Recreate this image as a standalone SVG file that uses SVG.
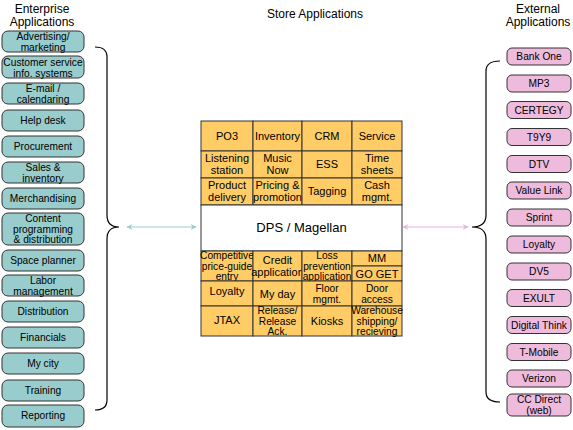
<svg xmlns="http://www.w3.org/2000/svg" width="573" height="430" viewBox="0 0 573 430">
<style>
text{font-family:"Liberation Sans",Arial,sans-serif;fill:#000;text-anchor:middle}
.title{font-size:12px}
.ent rect{fill:#99cccc;stroke:#333;stroke-width:1}
.ext rect{fill:#eebbdd;stroke:#333;stroke-width:1}
.ent text,.ext text{font-size:10.2px}
.cell rect{fill:#ffcc66;stroke:#333;stroke-width:1}
.cell text{font-size:11px}
.cell text.s{font-size:10.2px}
.br{fill:none;stroke:#000;stroke-width:1.2}
</style>
<defs>
<marker id="at" viewBox="0 0 10 10" refX="9" refY="5" markerWidth="8" markerHeight="6" orient="auto-start-reverse" markerUnits="userSpaceOnUse"><path d="M0,0 L10,5 L0,10 L3,5 Z" fill="#99cccc"/></marker>
<marker id="ap" viewBox="0 0 10 10" refX="9" refY="5" markerWidth="8" markerHeight="6" orient="auto-start-reverse" markerUnits="userSpaceOnUse"><path d="M0,0 L10,5 L0,10 L3,5 Z" fill="#e8b4d8"/></marker>
</defs>
<rect width="573" height="430" fill="#fff"/>
<g id="titles">
<text class="title" x="42" y="12.5">Enterprise</text>
<text class="title" x="42" y="26.2">Applications</text>
<text class="title" x="315" y="18">Store Applications</text>
<text class="title" x="538" y="12.5">External</text>
<text class="title" x="538" y="26.2">Applications</text>
</g>
<g id="enterprise" class="ent">
<g id="e1"><rect x="2" y="31" width="82" height="21" rx="6"/><text x="43" y="40">Advertising/</text><text x="43" y="51">marketing</text></g>
<g id="e2"><rect x="2" y="56" width="82" height="22" rx="6"/><text x="43" y="65.5">Customer service</text><text x="43" y="76.5">info. systems</text></g>
<g id="e3"><rect x="2" y="83" width="82" height="21" rx="6"/><text x="43" y="92">E-mail /</text><text x="43" y="103">calendaring</text></g>
<g id="e4"><rect x="2" y="110" width="82" height="21" rx="6"/><text x="43" y="124">Help desk</text></g>
<g id="e5"><rect x="2" y="136" width="82" height="21" rx="6"/><text x="43" y="150">Procurement</text></g>
<g id="e6"><rect x="2" y="162" width="82" height="21" rx="6"/><text x="43" y="171">Sales &amp;</text><text x="43" y="182">inventory</text></g>
<g id="e7"><rect x="2" y="188" width="82" height="21" rx="6"/><text x="43" y="202">Merchandising</text></g>
<g id="e8"><rect x="2" y="213" width="82" height="32" rx="6"/><text x="43" y="222">Content</text><text x="43" y="232.5">programming</text><text x="43" y="243">&amp; distribution</text></g>
<g id="e9"><rect x="2" y="250" width="82" height="21" rx="6"/><text x="43" y="264">Space planner</text></g>
<g id="e10"><rect x="2" y="275" width="82" height="21" rx="6"/><text x="43" y="284">Labor</text><text x="43" y="295">management</text></g>
<g id="e11"><rect x="2" y="301" width="82" height="21" rx="6"/><text x="43" y="315">Distribution</text></g>
<g id="e12"><rect x="2" y="327" width="82" height="21" rx="6"/><text x="43" y="341">Financials</text></g>
<g id="e13"><rect x="2" y="353" width="82" height="21" rx="6"/><text x="43" y="367">My city</text></g>
<g id="e14"><rect x="2" y="380" width="82" height="21" rx="6"/><text x="43" y="394">Training</text></g>
<g id="e15"><rect x="2" y="405" width="82" height="22" rx="6"/><text x="43" y="419">Reporting</text></g>
</g>
<g id="store" class="cell">
<g id="s-po3"><rect x="201" y="121" width="52" height="30"/><text x="227" y="140">PO3</text></g>
<g id="s-inv"><rect x="253" y="121" width="49" height="30"/><text x="277.5" y="140">Inventory</text></g>
<g id="s-crm"><rect x="302" y="121" width="50" height="30"/><text x="327" y="140">CRM</text></g>
<g id="s-svc"><rect x="352" y="121" width="50" height="30"/><text x="377" y="140">Service</text></g>
<g id="s-lst"><rect x="201" y="151" width="52" height="27"/><text x="227" y="162">Listening</text><text x="227" y="174">station</text></g>
<g id="s-mus"><rect x="253" y="151" width="49" height="27"/><text x="277.5" y="162">Music</text><text x="277.5" y="174">Now</text></g>
<g id="s-ess"><rect x="302" y="151" width="50" height="27"/><text x="327" y="168">ESS</text></g>
<g id="s-time"><rect x="352" y="151" width="50" height="27"/><text x="377" y="162">Time</text><text x="377" y="174">sheets</text></g>
<g id="s-prod"><rect x="201" y="178" width="52" height="27"/><text x="227" y="189">Product</text><text x="227" y="201">delivery</text></g>
<g id="s-pric"><rect x="253" y="178" width="49" height="27"/><text x="277.5" y="189">Pricing &amp;</text><text x="277.5" y="201">promotion</text></g>
<g id="s-tag"><rect x="302" y="178" width="50" height="27"/><text x="327" y="195">Tagging</text></g>
<g id="s-cash"><rect x="352" y="178" width="50" height="27"/><text x="377" y="189">Cash</text><text x="377" y="201">mgmt.</text></g>
<g id="s-dps"><rect x="201" y="205" width="201" height="46" style="fill:#fff"/><text x="301.5" y="232" style="font-size:13px">DPS / Magellan</text></g>
<g id="s-comp"><rect x="201" y="251" width="52" height="30"/><text class="s" x="227" y="259">Competitive</text><text class="s" x="227" y="269.5">price-guide</text><text class="s" x="227" y="280">entry</text></g>
<g id="s-cred"><rect x="253" y="251" width="49" height="30"/><text x="277.5" y="264">Credit</text><text x="277.5" y="276">application</text></g>
<g id="s-loss"><rect x="302" y="251" width="50" height="30"/><text class="s" x="327" y="259">Loss</text><text class="s" x="327" y="269.5">prevention</text><text class="s" x="327" y="280">application</text></g>
<g id="s-mm"><rect x="352" y="251" width="50" height="15"/><text x="377" y="262">MM</text></g>
<g id="s-go"><rect x="352" y="266" width="50" height="15"/><text x="377" y="278">GO GET</text></g>
<g id="s-loy"><rect x="201" y="281" width="52" height="25"/><text x="227" y="295">Loyalty</text></g>
<g id="s-day"><rect x="253" y="281" width="49" height="25"/><text x="277.5" y="298">My day</text></g>
<g id="s-floor"><rect x="302" y="281" width="50" height="25"/><text class="s" x="327" y="292">Floor</text><text class="s" x="327" y="303">mgmt.</text></g>
<g id="s-door"><rect x="352" y="281" width="50" height="25"/><text class="s" x="377" y="292">Door</text><text class="s" x="377" y="303">access</text></g>
<g id="s-jtax"><rect x="201" y="306" width="52" height="30"/><text x="227" y="324">JTAX</text></g>
<g id="s-rel"><rect x="253" y="306" width="49" height="30"/><text class="s" x="277.5" y="314">Release/</text><text class="s" x="277.5" y="324.5">Release</text><text class="s" x="277.5" y="335">Ack.</text></g>
<g id="s-kiosk"><rect x="302" y="306" width="50" height="30"/><text x="327" y="325">Kiosks</text></g>
<g id="s-wh"><rect x="352" y="306" width="50" height="30"/><text class="s" x="377" y="314">Warehouse</text><text class="s" x="377" y="324.5">shipping/</text><text class="s" x="377" y="335">recieving</text></g>
</g>
<g id="external" class="ext">
<g id="x1"><rect x="507" y="48" width="64" height="17" rx="5"/><text x="539" y="60">Bank One</text></g>
<g id="x2"><rect x="507" y="75" width="64" height="17" rx="5"/><text x="539" y="87">MP3</text></g>
<g id="x3"><rect x="507" y="101.5" width="64" height="17" rx="5"/><text x="539" y="113.5">CERTEGY</text></g>
<g id="x4"><rect x="507" y="128.5" width="64" height="17" rx="5"/><text x="539" y="140.5">T9Y9</text></g>
<g id="x5"><rect x="507" y="155.5" width="64" height="17" rx="5"/><text x="539" y="167.5">DTV</text></g>
<g id="x6"><rect x="507" y="182" width="64" height="17" rx="5"/><text x="539" y="194">Value Link</text></g>
<g id="x7"><rect x="507" y="209" width="64" height="17" rx="5"/><text x="539" y="221">Sprint</text></g>
<g id="x8"><rect x="507" y="236" width="64" height="17" rx="5"/><text x="539" y="248">Loyalty</text></g>
<g id="x9"><rect x="507" y="263" width="64" height="17" rx="5"/><text x="539" y="275">DV5</text></g>
<g id="x10"><rect x="507" y="289.5" width="64" height="17" rx="5"/><text x="539" y="301.5">EXULT</text></g>
<g id="x11"><rect x="507" y="316.5" width="64" height="17" rx="5"/><text x="539" y="328.5">Digital Think</text></g>
<g id="x12"><rect x="507" y="343.5" width="64" height="17" rx="5"/><text x="539" y="355.5">T-Mobile</text></g>
<g id="x13"><rect x="507" y="370" width="64" height="17" rx="5"/><text x="539" y="382">Verizon</text></g>
<g id="x14"><rect x="507" y="394" width="64" height="22" rx="5"/><text x="539" y="403">CC Direct</text><text x="539" y="414">(web)</text></g>
</g>
<g id="connectors">
<path class="br" d="M95,47 Q107,47 107,57 L107,215 Q107,227 119,227 Q107,227 107,239 L107,400 Q107,410 95,410"/>
<path class="br" d="M500,61 Q486,61 486,71 L486,215 Q486,227 472,227 Q486,227 486,239 L486,392 Q486,402 500,402"/>
<line x1="127" y1="227" x2="196" y2="227" stroke="#99cccc" stroke-width="1.2" marker-start="url(#at)" marker-end="url(#at)"/>
<line x1="403" y1="227" x2="468" y2="227" stroke="#e8b4d8" stroke-width="1.2" marker-start="url(#ap)" marker-end="url(#ap)"/>
</g>
</svg>
